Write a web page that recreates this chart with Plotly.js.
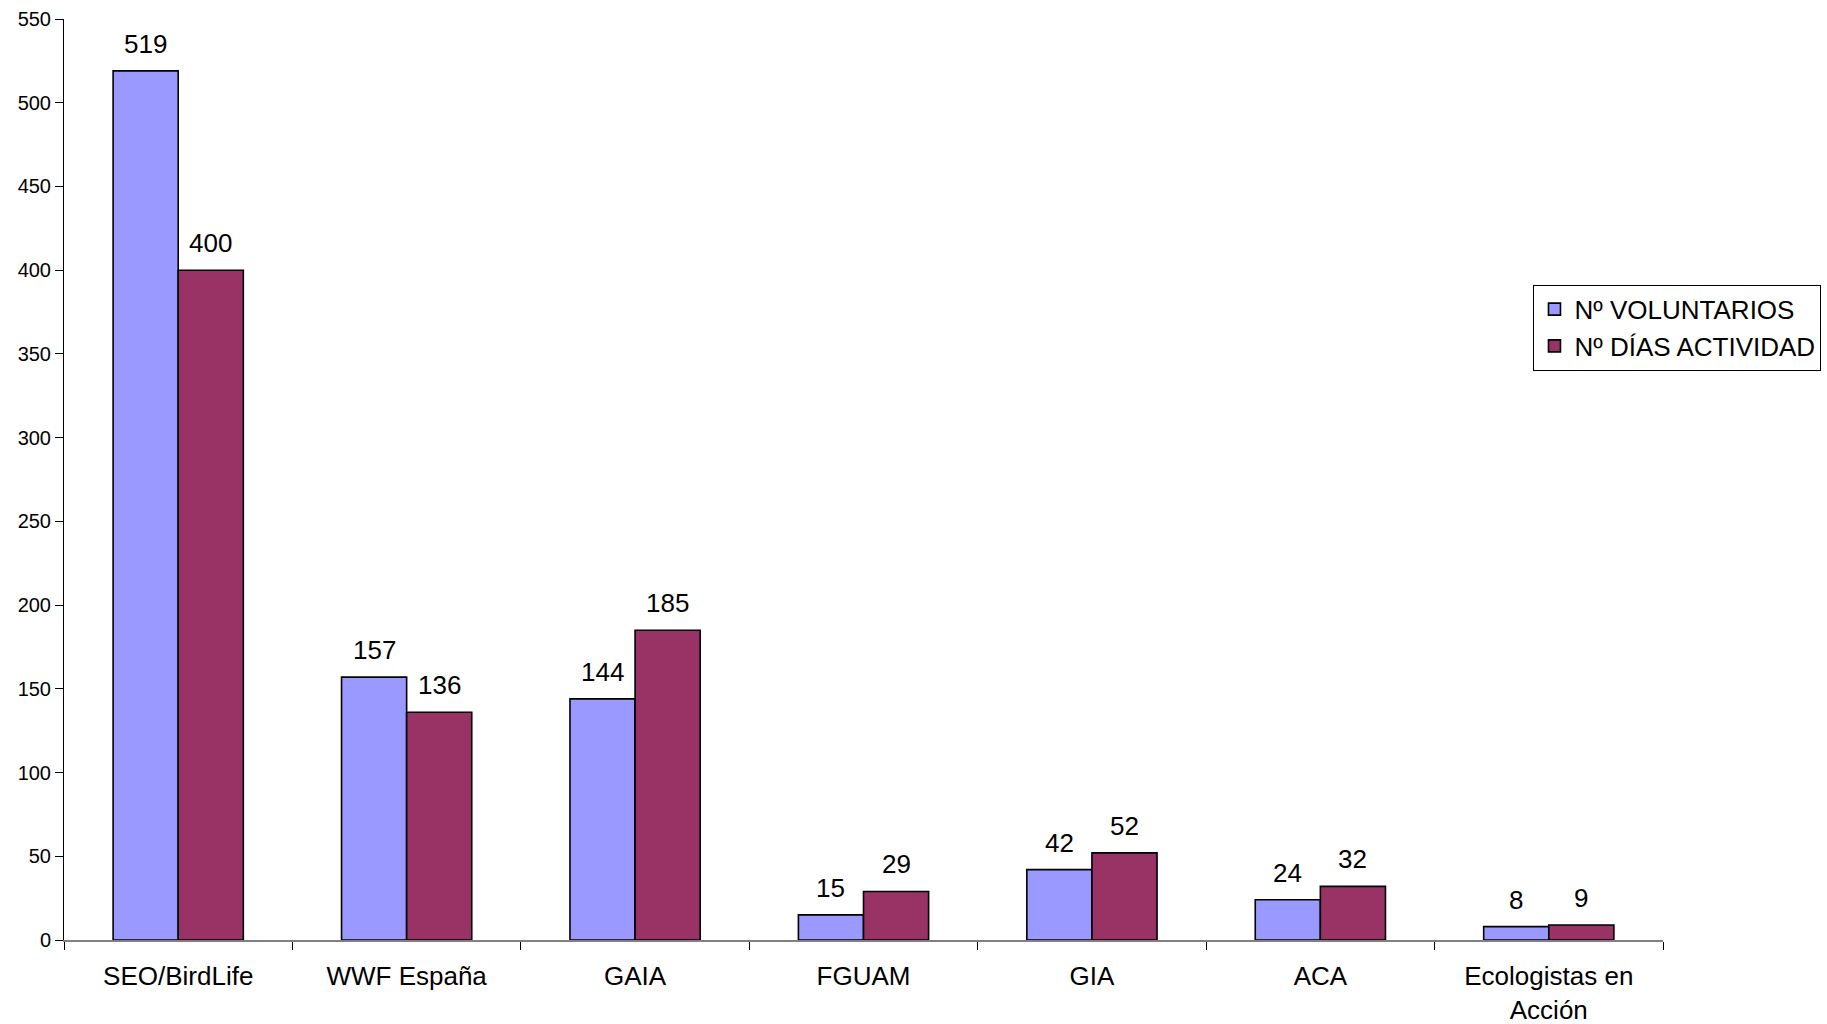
<!DOCTYPE html>
<html>
<head>
<meta charset="utf-8">
<script src="https://cdn.plot.ly/plotly-3.0.1.min.js"></script>
<style>html,body{margin:0;padding:0;background:#fff;}#chart{width:1827px;height:1024px;}</style>
</head>
<body>
<div id="chart"></div>
<script>
const categories = ["SEO/BirdLife", "WWF España", "GAIA", "FGUAM", "GIA", "ACA", "Ecologistas en<br>Acción"];
const voluntarios = [519, 157, 144, 15, 42, 24, 8];
const diasActividad = [400, 136, 185, 29, 52, 32, 9];
const seriesNames = ["Nº VOLUNTARIOS", "Nº DÍAS ACTIVIDAD"];
const yTicks = [0, 50, 100, 150, 200, 250, 300, 350, 400, 450, 500, 550];

const FONT = "Liberation Sans, Arial, sans-serif";
const W = 1827, H = 1024;
const M = {l: 64, r: 164, t: 19, b: 84, autoexpand: false};
const BARGAP = 0.43;
const plotW = W - M.l - M.r;
const barW = plotW / categories.length * (1 - BARGAP) / 2;

const traces = [
  {
    type: "bar", name: seriesNames[0], x: categories, y: voluntarios,
    marker: {color: "#9999FF", line: {color: "#000", width: 1.6}}
  },
  {
    type: "bar", name: seriesNames[1], x: categories, y: diasActividad,
    marker: {color: "#993366", line: {color: "#000", width: 1.6}}
  }
];

const annotations = [];
[voluntarios, diasActividad].forEach((vals, si) => {
  vals.forEach((v, i) => {
    annotations.push({
      x: categories[i], y: v, xref: "x", yref: "y",
      text: String(v), showarrow: false,
      xshift: (si === 0 ? -1 : 1) * barW / 2, yshift: 27,
      xanchor: "center", yanchor: "middle",
      font: {family: FONT, size: 26, color: "#000"}
    });
  });
});

const layout = {
  width: W, height: H,
  margin: M,
  paper_bgcolor: "#fff", plot_bgcolor: "#fff",
  font: {family: FONT, color: "#000"},
  barmode: "group", bargap: BARGAP, bargroupgap: 0,
  showlegend: true,
  legend: {
    x: 0.919, y: 0.7115, xanchor: "left", yanchor: "top",
    bordercolor: "#000", borderwidth: 1, bgcolor: "#fff",
    font: {family: FONT, size: 26, color: "#000"},
    itemwidth: 30, tracegroupgap: 0
  },
  annotations: annotations,
  xaxis: {
    type: "category", showline: true, linecolor: "#808080", linewidth: 2,
    ticks: "outside", tickson: "boundaries", ticklen: 8, tickcolor: "#000", tickwidth: 1,
    ticklabelstandoff: 12,
    tickfont: {family: FONT, size: 26, color: "#000"},
    showgrid: false, zeroline: false, fixedrange: true
  },
  yaxis: {
    range: [0, 550], tickvals: yTicks, ticktext: yTicks.map(String),
    showline: true, linecolor: "#000", linewidth: 1,
    ticks: "outside", ticklen: 8, tickcolor: "#000", tickwidth: 1,
    tickfont: {family: FONT, size: 20, color: "#000"},
    showgrid: false, zeroline: false
  }
};

Plotly.newPlot("chart", traces, layout, {displayModeBar: false, staticPlot: true});
</script>
</body>
</html>
